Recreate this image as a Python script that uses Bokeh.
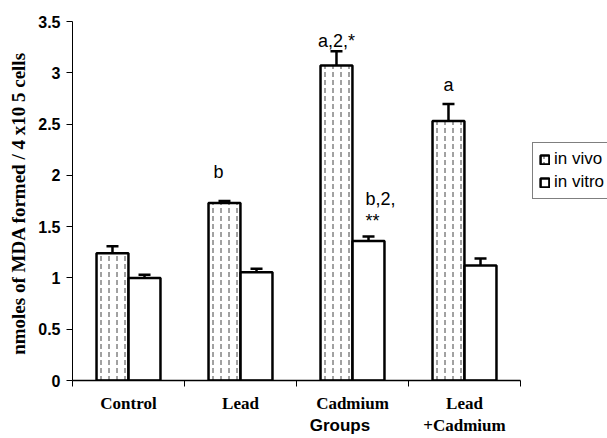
from bokeh.plotting import figure
from bokeh.models import (ColumnDataSource, Whisker, TeeHead, Label,
                          Legend, LegendItem, FixedTicker)
from bokeh.embed import file_html
from bokeh.resources import INLINE

# ---- data ----
groups = ["Control", "Lead", "Cadmium", "Lead\n+Cadmium"]
in_vivo = [1.24, 1.73, 3.07, 2.53]
in_vivo_err = [0.07, 0.02, 0.14, 0.165]
in_vitro = [1.00, 1.055, 1.36, 1.12]
in_vitro_err = [0.03, 0.035, 0.045, 0.07]
y_ticks = [0, 0.5, 1, 1.5, 2, 2.5, 3, 3.5]

# annotations: (series, group index, text)
notes = [("vivo", 1, "b"), ("vivo", 2, "a,2,*"), ("vitro", 2, "b,2,"),
         ("vitro", 2, "**"), ("vivo", 3, "a")]
# layout of annotations (pixel offsets above the error bar top, align)
note_layout = [(-6, 29, "center"), (0, 10, "center"), (-3, 37, "left"),
               (-3, 15.5, "left"), (0, 19, "center")]

# ---- layout (pixels) ----
W, H = 607, 438
LEFT, TOP, BOTTOM = 72, 21, 55
AXIS_PX = 448          # width of the drawn category axis
BAR_W = 0.285
OFF = 0.143
n = len(groups)
x_end = n * (W - LEFT) / AXIS_PX   # extra room on the right holds the legend

idx = list(range(n))
x_vivo = [i + 0.5 - OFF for i in idx]
x_vitro = [i + 0.5 + OFF for i in idx]

src_vivo = ColumnDataSource(dict(x=x_vivo, top=in_vivo,
                                 lo=[v - e for v, e in zip(in_vivo, in_vivo_err)],
                                 hi=[v + e for v, e in zip(in_vivo, in_vivo_err)]))
src_vitro = ColumnDataSource(dict(x=x_vitro, top=in_vitro,
                                  lo=[v - e for v, e in zip(in_vitro, in_vitro_err)],
                                  hi=[v + e for v, e in zip(in_vitro, in_vitro_err)]))

p = figure(width=W, height=H, x_range=(0, x_end), y_range=(0, 3.5),
           output_backend="svg", toolbar_location=None,
           min_border_left=LEFT, min_border_right=0, min_border_top=TOP,
           min_border_bottom=BOTTOM)
p.outline_line_color = None
p.xgrid.visible = False
p.ygrid.visible = False

r_vivo = p.vbar(x="x", top="top", width=BAR_W, source=src_vivo,
                fill_color="white", line_color="black", line_width=2.5,
                hatch_pattern="vertical_dash", hatch_scale=8, hatch_weight=1,
                hatch_color="#444444")
r_vitro = p.vbar(x="x", top="top", width=BAR_W, source=src_vitro,
                 fill_color="white", line_color="black", line_width=2.5)

for src in (src_vivo, src_vitro):
    w = Whisker(source=src, base="x", lower="lo", upper="hi",
                line_color="black", line_width=2.5,
                upper_head=TeeHead(size=12, line_width=2.5, line_color="black"),
                lower_head=TeeHead(size=12, line_width=2.5, line_color="black"))
    p.add_layout(w)

# y axis
ya = p.yaxis[0]
ya.ticker = FixedTicker(ticks=y_ticks)
ya.minor_tick_line_color = None
ya.major_tick_in = 0
ya.major_tick_out = 6
ya.major_label_standoff = 6
ya.major_label_text_font = "Liberation Sans"
ya.major_label_text_font_style = "bold"
ya.major_label_text_font_size = "16px"
ya.major_label_text_color = "black"
ya.axis_line_color = "black"
ya.axis_label = "nmoles of MDA formed / 4  x10 5 cells"
ya.axis_label_text_font = "Liberation Serif"
ya.axis_label_text_font_style = "bold"
ya.axis_label_text_font_size = "19px"
ya.axis_label_text_color = "black"
ya.axis_label_standoff = 6

# x axis: labels at group centres, boundary ticks as minor ticks
xa = p.xaxis[0]
xa.bounds = (0, n)
xa.ticker = FixedTicker(ticks=[i + 0.5 for i in idx], minor_ticks=list(range(n + 1)))
xa.major_label_overrides = {i + 0.5: g for i, g in zip(idx, groups)}
xa.major_tick_line_color = None
xa.major_tick_in = 0
xa.major_tick_out = 6
xa.minor_tick_in = 0
xa.minor_tick_out = 6
xa.minor_tick_line_color = "black"
xa.major_label_standoff = 7
xa.major_label_text_font = "Liberation Serif"
xa.major_label_text_font_style = "bold"
xa.major_label_text_font_size = "17px"
xa.major_label_text_color = "black"
xa.axis_line_color = "black"
xa.axis_line_width = 1.5
xa.axis_label = "Groups"
xa.axis_label_text_font = "Liberation Sans"
xa.axis_label_text_font_style = "bold"
xa.axis_label_text_font_size = "17px"
xa.axis_label_text_color = "black"
xa.axis_label_standoff = -22

# annotations
for (series, gi, txt), (dx, dy, al) in zip(notes, note_layout):
    if series == "vivo":
        xv, yv = x_vivo[gi], in_vivo[gi] + in_vivo_err[gi]
    else:
        xv, yv = x_vitro[gi], in_vitro[gi] + in_vitro_err[gi]
    p.add_layout(Label(x=xv, y=yv, x_offset=dx, y_offset=dy, text=txt,
                       text_align=al, text_baseline="alphabetic",
                       text_font="Liberation Sans", text_font_size="18px",
                       text_color="black"))

legend = Legend(items=[LegendItem(label="in vivo", renderers=[r_vivo]),
                       LegendItem(label="in vitro", renderers=[r_vitro])],
                location=(460, 181), orientation="vertical",
                label_text_font="Liberation Sans", label_text_font_size="17px",
                label_text_color="black", glyph_width=11, glyph_height=11,
                label_height=18, label_standoff=4, spacing=3, padding=6,
                margin=0, border_line_color="black", border_line_width=1,
                background_fill_color="white", background_fill_alpha=1)
p.add_layout(legend, "center")

open("out.html", "w").write(file_html(p, INLINE))
